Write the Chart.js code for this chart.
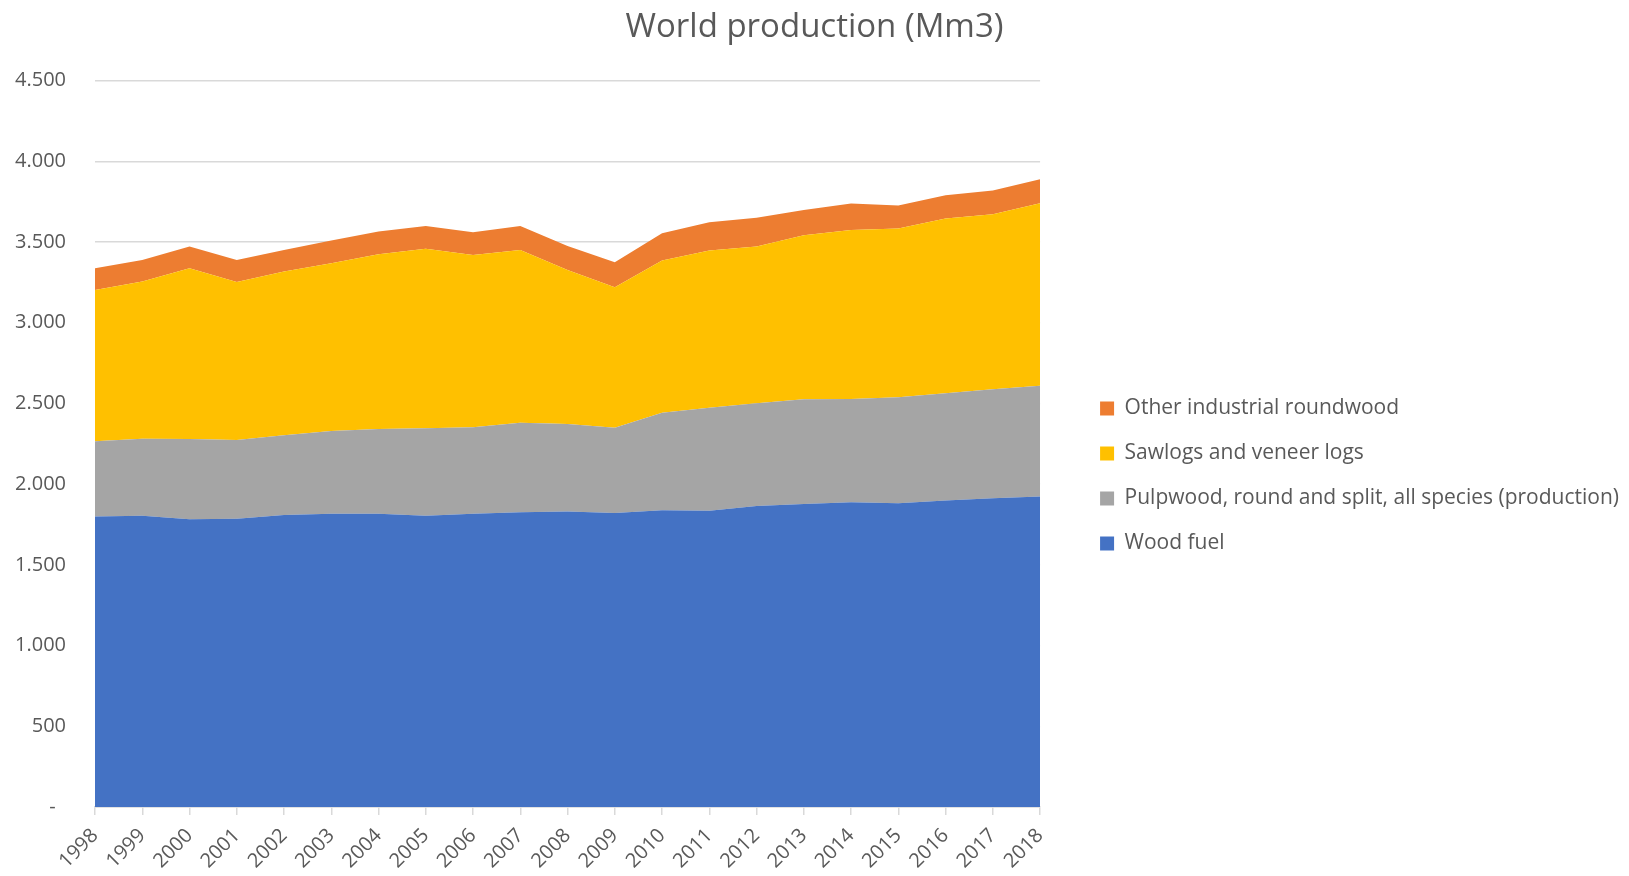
<!DOCTYPE html>
<html>
<head>
<meta charset="utf-8">
<title>World production (Mm3)</title>
<script src="https://cdn.jsdelivr.net/npm/chart.js@4.4.1/dist/chart.umd.min.js"></script>
<style>
  html, body { margin: 0; padding: 0; background: #fff; }
  #wrap { width: 1629px; height: 876px; }
</style>
</head>
<body>
<div id="wrap"><canvas id="chart" width="1629" height="876"></canvas></div>
<script>
// 年
const years = ['1998', '1999', '2000', '2001', '2002', '2003', '2004', '2005', '2006', '2007',
  '2008', '2009', '2010', '2011', '2012', '2013', '2014', '2015', '2016', '2017', '2018'];

// 系列ごとの生産量 (Mm3)
const woodFuel = [1799, 1805, 1782, 1786, 1809, 1817, 1817, 1805, 1817, 1826,
  1830, 1822, 1838, 1836, 1865, 1877, 1888, 1882, 1898, 1913, 1923];
const pulpwood = [467, 477, 498, 488, 494, 513, 525, 541, 535, 555,
  543, 528, 605, 638, 636, 649, 640, 656, 665, 675, 687];
const sawlogs = [937, 973, 1058, 979, 1014, 1039, 1082, 1113, 1068, 1070,
  954, 870, 942, 973, 971, 1016, 1047, 1045, 1082, 1084, 1130];
const otherIndustrial = [135, 134, 134, 136, 134, 140, 141, 141, 141, 149,
  149, 155, 169, 176, 178, 157, 163, 143, 145, 147, 149];

const TEXT = '#595959';
const GRID = '#d9d9d9';
const FONT = "'Open Sans', 'Noto Sans', sans-serif";

// 千区切りはピリオド、0 は "-"
function fmt(v) {
  if (v === 0) return '-  ';
  return String(v).replace(/\B(?=(\d{3})+(?!\d))/g, '.');
}

function area(label, data, color, fill) {
  return {
    label: label,
    data: data,
    backgroundColor: color,
    borderColor: color,
    borderWidth: 0,
    pointRadius: 0,
    pointHoverRadius: 0,
    tension: 0,
    fill: fill
  };
}

const ctx = document.getElementById('chart').getContext('2d');
new Chart(ctx, {
  type: 'line',
  data: {
    labels: years,
    datasets: [
      area('Wood fuel', woodFuel, '#4472C4', 'origin'),
      area('Pulpwood, round and split, all species (production)', pulpwood, '#A5A5A5', '-1'),
      area('Sawlogs and veneer logs', sawlogs, '#FFC000', '-1'),
      area('Other industrial roundwood', otherIndustrial, '#ED7D31', '-1')
    ]
  },
  options: {
    responsive: false,
    animation: false,
    layout: { padding: 0 },
    scales: {
      x: {
        type: 'category',
        offset: false,
        grid: {
          display: true,
          drawOnChartArea: false,
          drawTicks: true,
          tickLength: 8,
          color: GRID,
          lineWidth: 1.5
        },
        border: { display: true, color: GRID, width: 1.5 },
        ticks: {
          color: TEXT,
          font: { family: FONT, size: 20 },
          maxRotation: 45,
          minRotation: 45,
          autoSkip: false,
          padding: 9
        },
        afterFit: (s) => { s.height = 69; }
      },
      y: {
        stacked: true,
        min: 0,
        max: 4500,
        grid: {
          color: GRID,
          lineWidth: 1.5,
          drawTicks: false
        },
        border: { display: false },
        ticks: {
          stepSize: 500,
          color: TEXT,
          font: { family: FONT, size: 20 },
          padding: 29,
          callback: (v) => fmt(v)
        },
        afterFit: (s) => { s.width = 95; }
      },
      // 凡例との間隔用（描画なし）
      gap: {
        type: 'linear',
        position: 'right',
        display: true,
        min: 0,
        max: 1,
        grid: { display: false },
        border: { display: false },
        ticks: { display: false },
        afterFit: (s) => { s.width = 36; }
      }
    },
    plugins: {
      title: {
        display: true,
        text: 'World production (Mm3)',
        color: TEXT,
        font: { family: FONT, size: 33, weight: 'normal' },
        padding: { top: 8, bottom: 33 }
      },
      legend: {
        position: 'right',
        reverse: true,
        maxWidth: 553,
        title: {
          display: true,
          text: ' ',
          font: { size: 10 },
          padding: { top: 32, bottom: 32 }
        },
        labels: {
          color: TEXT,
          font: { family: FONT, size: 21 },
          boxWidth: 14,
          boxHeight: 14,
          padding: 24
        }
      },
      tooltip: { enabled: false }
    }
  }
});
</script>
</body>
</html>
